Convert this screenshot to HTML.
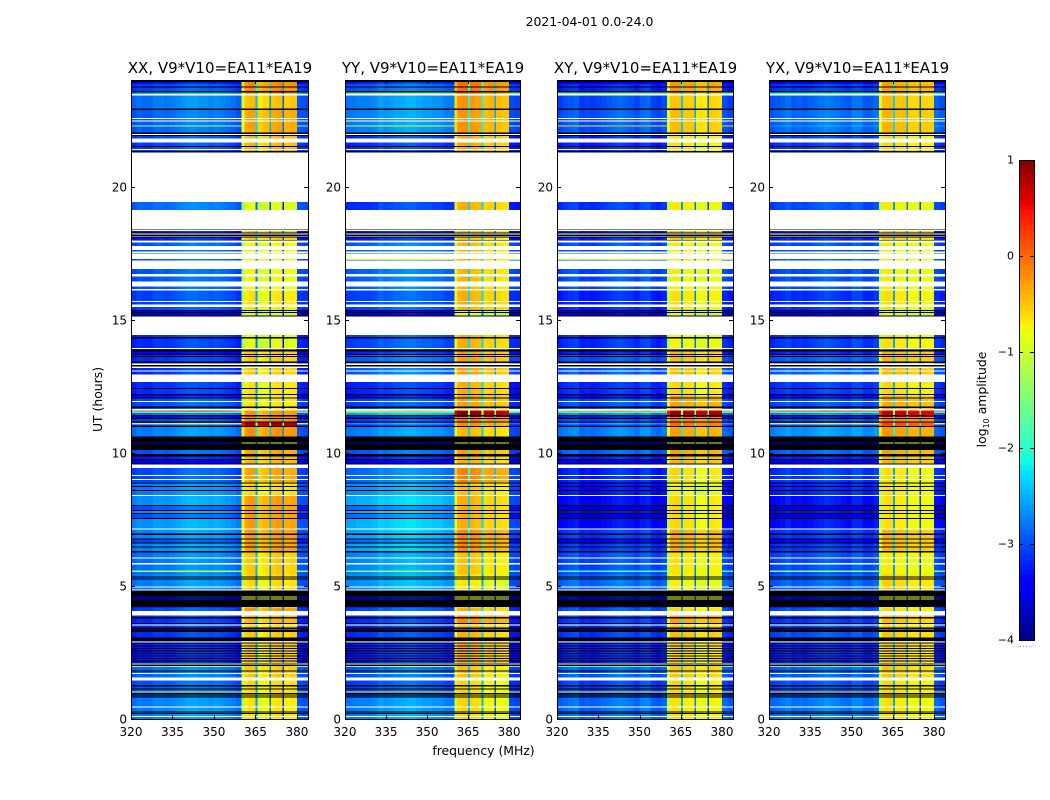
<!DOCTYPE html>
<html lang="en">
<head>
<meta charset="utf-8">
<title>2021-04-01 0.0-24.0</title>
<style>
html,body{margin:0;padding:0;background:#fff;width:1050px;height:800px;overflow:hidden}
svg{display:block}
text{font-family:"DejaVu Sans","Liberation Sans",sans-serif;fill:#000}
</style>
</head>
<body>
<svg id="figure" xmlns="http://www.w3.org/2000/svg" width="1050" height="800" viewBox="0 0 1050 800">
  <rect x="0" y="0" width="1050" height="800" fill="#fff"/>
  <text x="589.5" y="26" font-size="12.4" text-anchor="middle">2021-04-01 0.0-24.0</text>
  <text x="0" y="0" font-size="12.4" text-anchor="middle" transform="translate(102,399.5) rotate(-90)">UT (hours)</text>
  <text x="483.5" y="755" font-size="12.4" text-anchor="middle">frequency (MHz)</text>
  <text x="0" y="0" font-size="12.4" text-anchor="middle" transform="translate(986,399.5) rotate(-90)">log<tspan font-size="8" dy="3">10</tspan><tspan dy="-3"> amplitude</tspan></text>
  <text x="1017" y="647" font-size="6" fill="#555" letter-spacing="0.9">......</text>
  <g id="panels"></g>
  <g id="colorbar"></g>
</svg>
<script>
// ---- chart data (hours UT, MHz, log10 amplitude) ----
const panelNames = ['XX', 'YY', 'XY', 'YX'];
const freqTicks = [320, 335, 350, 365, 380];
const utTicks = [0, 5, 10, 15, 20];
const colorTicks = [1, 0, -1, -2, -3, -4];
const freqEdges = [320,322,324,326,328,330,332,334,336,338,340,342,344,346,348,350,352,354,356,358,360,361,362.5,365,365.8,367.5,370,370.6,372.5,374.7,375.3,377.5,380,382,384];

// lower hour bound of each coarse time block, top of the plot downward
const blockFloorHours = [23.51,22.91,22.03,21.27,18.41,17.95,16.12,15.37,15.12,13.90,12.93,12.14,11.65,11.35,11.13,10.99,10.60,10.11,9.96,9.56,8.91,8.42,7.11,6.28,5.42,4.82,4.18,4.05,3.60,2.95,2.06,1.45,0.83,0];

// level below the 360 MHz band for each block
const lowXX = [-3.0,-2.75,-2.85,-3.0,-2.8,-3.2,-2.9,-3.0,-3.5,-3.1,-3.1,-3.1,-2.95,-2.8,-3.0,-3.1,-2.7,-3.5,-2.9,-3.2,-2.95,-2.7,-2.6,-2.65,-2.75,-2.7,-3.3,-3.0,-3.1,-3.1,-3.2,-2.8,-2.9,-2.7];
const lowYY = [-2.9,-2.7,-2.7,-3.1,-3.1,-3.2,-2.85,-3.0,-3.5,-3.0,-2.85,-3.15,-3.0,-2.5,-3.0,-3.1,-2.7,-3.5,-2.9,-3.2,-2.8,-2.6,-2.45,-2.5,-2.65,-2.6,-3.3,-3.0,-3.1,-3.1,-3.2,-2.9,-3.0,-2.7];
const lowXY = [-3.2,-3.0,-2.95,-3.2,-3.1,-3.2,-3.0,-3.2,-3.5,-3.15,-2.95,-3.15,-3.0,-2.7,-3.0,-3.1,-2.75,-3.5,-2.9,-3.2,-3.2,-3.3,-3.35,-3.1,-3.0,-2.85,-3.3,-3.0,-3.1,-3.1,-3.2,-2.9,-3.05,-2.85];
const lowYX = [-3.1,-2.9,-2.85,-3.1,-3.0,-3.2,-3.0,-3.15,-3.5,-3.1,-2.9,-3.1,-3.0,-2.7,-3.0,-3.1,-2.65,-3.5,-2.9,-3.2,-3.1,-3.2,-3.3,-3.1,-3.0,-2.9,-3.3,-3.0,-3.1,-3.0,-3.2,-2.9,-3.0,-2.8];

// level inside the 360-380 MHz band for each block
const bandXX = [-.25,-.55,-.4,-.5,-.95,-.6,-.85,-.75,-1,-.95,-.6,-.75,-.75,-.3,-.2,.8,-.3,-.9,-.4,-.5,-.4,-.7,-.35,-.35,-.6,-.7,-.9,-.35,-.5,-.6,-.6,-.6,-.7,-.75];
const bandYY = [-.15,-.35,-.35,-.45,-.5,-.6,-.55,-.5,-1,-.5,-.4,-.5,-.4,.85,-.15,-.3,-.55,-.9,-.4,-.5,-.25,-.6,-.5,-.3,-.6,-.8,-.9,-.5,-.3,-.5,-.45,-.6,-.7,-.7];
const bandXY = [-.35,-.6,-.55,-.75,-.8,-.6,-.8,-.75,-1,-.85,-.55,-.7,-.4,.8,-.2,-.1,-.4,-.9,-.4,-.5,-.7,-.85,-.7,-.45,-.75,-.85,-.9,-.7,-.4,-.55,-.65,-.6,-.7,-.75];
const bandYX = [-.4,-.55,-.5,-.7,-.8,-.6,-.8,-.75,-1,-.75,-.5,-.7,-.45,.6,-.2,.1,-.35,-.9,-.4,-.5,-.75,-.75,-.75,-.5,-.8,-.65,-.9,-.7,-.55,-.6,-.65,-.6,-.7,-.75];

// spectral shape: offset added per frequency bin (one per freqEdges interval)
const shapeXX = [-.15,-.05,-.1,-.1,0,0,-.05,0,.05,.1,.15,.15,.1,.1,.05,.1,.05,0,-.05,-.15, -.4,.05,.12,-1.9,-.15,-.05,-2.1,.05,.1,-2.4,0,.05, -.1,-.15];
const shapeYY = [-.1,-.1,-.05,-.05,-.05,0,.12,.05,.1,.15,.15,.2,.2,.15,.1,.1,.05,.05,-.05,-.05, -.3,.1,.15,-1.8,.1,.05,-1.8,-.1,-.05,-2.2,-.1,-.15, -.15,-.2];
const shapeXY = [-.1,0,.05,.1,-.1,-.05,-.1,-.05,0,.05,.1,.15,.1,.05,-.05,.1,.15,-.05,-.1,0, -.35,.1,.12,-1.8,.05,.05,-2.0,-.1,-.1,-2.3,.02,-.02, 0,-.1];
const shapeYX = [-.1,-.05,0,.08,-.05,0,-.05,0,.05,.1,.15,.1,.05,0,-.05,.1,.1,-.05,-.05,.05, -.3,.1,.12,-1.8,.05,.05,-2.0,-.05,-.05,-2.3,-.02,-.05, 0,-.1];

// the 380-384 MHz edge stays below this level even when the rest of the spectrum is bright
const tailCeiling = -2.85;

// flagged (no data) integrations, plotted white: [upper hour, lower hour]
const whiteRows = [[23.48,23.41],[22.57,22.53],[22.48,22.45],[21.98,21.94],[21.81,21.66],[21.41,21.37],[21.27,19.42],[19.12,18.39],[18.37,18.33],[18.23,18.19],[18.15,18.12],[17.97,17.89],[17.77,17.62],[17.55,17.51],[17.49,17.28],[17.22,16.90],[16.72,16.62],[16.43,16.24],[16.15,16.09],[15.70,15.66],[15.56,15.48],[15.11,14.43],[13.94,13.90],[13.35,13.30],[13.24,13.19],[13.09,13.05],[12.94,12.66],[11.95,11.91],[11.64,11.59],[9.56,9.43],[9.16,9.12],[9.02,8.98],[8.41,8.37],[7.15,7.11],[6.07,6.03],[5.85,5.81],[4.98,4.94],[4.86,4.82],[4.05,3.88],[3.55,3.51],[2.91,2.87],[2.08,2.04],[1.73,1.69],[1.55,1.45],[0.47,0.43],[0.11,0.07]];

// fully attenuated integrations, plotted black
const blackRows = [[24.0,23.93],[23.75,23.71],[23.58,23.53],[22.93,22.88],[22.02,21.98],[21.94,21.90],[21.52,21.48],[21.33,21.27],[18.39,18.37],[18.27,18.23],[18.19,18.15],[18.12,18.08],[18.0,17.97],[15.37,15.33],[15.28,15.24],[15.15,15.11],[14.34,14.30],[13.88,13.80],[13.71,13.67],[13.64,13.60],[13.42,13.38],[13.30,13.24],[12.43,12.39],[12.20,12.16],[12.08,12.04],[11.74,11.69],[11.41,11.37],[11.31,11.27],[11.17,11.13],[11.01,10.97],[10.61,10.39],[10.35,10.11],[9.96,9.86],[9.76,9.72],[9.60,9.56],[8.89,8.85],[8.76,8.72],[8.60,8.56],[8.04,8.00],[7.85,7.81],[7.74,7.70],[7.55,7.51],[6.96,6.92],[6.78,6.74],[6.63,6.59],[6.48,6.44],[6.31,6.25],[5.36,5.31],[5.28,5.24],[4.82,4.61],[4.57,4.52],[4.48,4.21],[3.84,3.77],[3.61,3.57],[3.43,3.38],[3.36,3.27],[3.07,2.93],[2.87,2.83],[2.76,2.72],[2.67,2.63],[2.58,2.54],[2.48,2.44],[2.39,2.35],[2.29,2.25],[2.20,2.16],[2.11,2.08],[2.04,2.00],[1.83,1.79],[1.27,1.23],[1.14,1.10],[0.98,0.94],[0.92,0.88],[0.84,0.80],[0.29,0.25],[0.23,0.19]];

// weak integrations: darker below the band
const dimRows = [[23.93,23.85],[13.80,13.71],[12.16,12.08],[11.37,11.31],[9.72,9.60],[8.00,7.85],[7.70,7.55],[6.74,6.63],[3.38,3.36]];
const dimOffset = -0.3;

// RFI lines: [upper hour, lower hour], with the level below the band per panel
const hotRows = [[23.53,23.48],[22.30,22.26],[17.28,17.24],[11.59,11.54],[11.54,11.49],[11.12,11.07],[5.57,5.53],[2.00,1.96],[1.03,0.99]];
const hotXX = [-2.4,-1.2,-2.9,0.2,-1.9,-1.0,-1.2,-1.2,-0.8];
const hotYY = [-1.5,-0.9,-1.0,-0.6,-1.9,-2.6,-1.4,-1.2,-0.7];
const hotXY = [-1.6,-0.6,-1.2,-0.3,-1.9,-2.6,-1.8,-1.6,-0.8];
const hotYX = [-2.0,-2.5,-2.9,0.1,-1.9,-1.0,-1.4,-1.5,-0.5];

const lowSeries = [lowXX, lowYY, lowXY, lowYX];
const bandSeries = [bandXX, bandYY, bandXY, bandYX];
const shapeSeries = [shapeXX, shapeYY, shapeXY, shapeYX];
const hotSeries = [hotXX, hotYY, hotXY, hotYX];

// ---- layout ----
const SVGNS = 'http://www.w3.org/2000/svg';
const panelLeft = [131, 345, 557, 769];
const panelRight = [308, 520, 733, 945];
const plotTop = 80, plotBottom = 719;
const freqMin = 320, freqMax = 384, utMin = 0, utMax = 24, cMin = -4, cMax = 1;
const cbLeft = 1019, cbRight = 1034, cbTop = 160, cbBottom = 640;

function xScale(p, f) { return panelLeft[p] + (f - freqMin) / (freqMax - freqMin) * (panelRight[p] - panelLeft[p]); }
function yScale(h) { return plotBottom - (h - utMin) / (utMax - utMin) * (plotBottom - plotTop); }
function cScale(v) { return cbBottom - (v - cMin) / (cMax - cMin) * (cbBottom - cbTop); }

function interp(stops, t) {
  for (let i = 1; i < stops.length; i++) {
    if (t <= stops[i][0]) {
      const a = stops[i - 1], b = stops[i];
      return a[1] + (b[1] - a[1]) * (t - a[0]) / (b[0] - a[0]);
    }
  }
  return stops[stops.length - 1][1];
}
const jetR = [[0,0],[.35,0],[.66,1],[.89,1],[1,.5]];
const jetG = [[0,0],[.125,0],[.375,1],[.64,1],[.91,0],[1,0]];
const jetB = [[0,.5],[.11,1],[.34,1],[.65,0],[1,0]];
function jet(v) {
  const t = Math.max(0, Math.min(1, (v - cMin) / (cMax - cMin)));
  return 'rgb(' + Math.round(255 * interp(jetR, t)) + ',' + Math.round(255 * interp(jetG, t)) + ',' + Math.round(255 * interp(jetB, t)) + ')';
}
function make(tag, attrs, parent) {
  const el = document.createElementNS(SVGNS, tag);
  for (const k in attrs) el.setAttribute(k, attrs[k]);
  parent.appendChild(el);
  return el;
}
function inRows(list, h) {
  for (let i = 0; i < list.length; i++) if (h <= list[i][0] && h > list[i][1]) return i;
  return -1;
}

const breaks = new Set([utMin, utMax]);
[whiteRows, blackRows, dimRows, hotRows].forEach(function (list) {
  list.forEach(function (r) { breaks.add(r[0]); breaks.add(r[1]); });
});
blockFloorHours.forEach(function (h) { breaks.add(h); });
const rowEdges = Array.from(breaks).sort(function (a, b) { return b - a; });

const panelsRoot = document.getElementById('panels');

panelNames.forEach(function (name, p) {
  const g = make('g', {}, panelsRoot);
  
  

  const cells = make('g', { 'shape-rendering': 'crispEdges' }, g);
  
  

  const x0 = xScale(p, freqMin), x1 = xScale(p, freqMax);
  for (let r = 0; r + 1 < rowEdges.length; r++) {
    const hi = rowEdges[r], lo = rowEdges[r + 1], mid = (hi + lo) / 2;
    const y0 = yScale(hi), y1 = yScale(lo);
    if (inRows(blackRows, mid) >= 0) {
      const bar = make('rect', { x: x0, y: y0, width: x1 - x0, height: y1 - y0, fill: '#000' }, cells);
      
      
      continue;
    }
    if (inRows(whiteRows, mid) >= 0) continue;
    let block = blockFloorHours.findIndex(function (f) { return mid > f; });
    if (block < 0) block = blockFloorHours.length - 1;
    const hot = inRows(hotRows, mid);
    const dim = inRows(dimRows, mid) >= 0 ? dimOffset : 0;
    for (let b = 0; b + 1 < freqEdges.length; b++) {
      const fMid = (freqEdges[b] + freqEdges[b + 1]) / 2;
      const inBand = fMid > 360 && fMid < 380;
      const inTail = fMid >= 380;
      let v;
      if (inBand) v = bandSeries[p][block] + shapeSeries[p][b];
      else if (hot >= 0) v = hotSeries[p][hot] + shapeSeries[p][b];
      else if (inTail) v = Math.min(lowSeries[p][block], tailCeiling) + shapeSeries[p][b] + dim;
      else v = lowSeries[p][block] + shapeSeries[p][b] + dim;
      const cell = make('rect', {
        x: xScale(p, freqEdges[b]), y: y0,
        width: xScale(p, freqEdges[b + 1]) - xScale(p, freqEdges[b]),
        height: y1 - y0, fill: jet(v)
      }, cells);
      
      
    }
  }

  const frame = make('rect', { x: x0 + .5, y: plotTop + .5, width: x1 - x0, height: plotBottom - plotTop, fill: 'none', stroke: '#000', 'stroke-width': 1, 'shape-rendering': 'crispEdges' }, g);
  
  

  const title = make('text', { x: (x0 + x1) / 2 + .5, y: 73, 'font-size': 15, 'text-anchor': 'middle' }, g);
  title.textContent = name + ', V9*V10=EA11*EA19';
  
  

  freqTicks.forEach(function (f) {
    const x = Math.round(xScale(p, f)) + .5;
    const tb = make('line', { x1: x, x2: x, y1: plotBottom, y2: plotBottom - 4, stroke: '#000', 'shape-rendering': 'crispEdges' }, g);
    
    
    const tt = make('line', { x1: x, x2: x, y1: plotTop, y2: plotTop + 4, stroke: '#000', 'shape-rendering': 'crispEdges' }, g);
    
    
    const lab = make('text', { x: xScale(p, f), y: 736, 'font-size': 12, 'text-anchor': 'middle' }, g);
    lab.textContent = String(f);
    
    
  });

  utTicks.forEach(function (h) {
    const y = Math.round(yScale(h)) + .5;
    const tl = make('line', { x1: x0, x2: x0 + 4, y1: y, y2: y, stroke: '#000', 'shape-rendering': 'crispEdges' }, g);
    
    
    const tr = make('line', { x1: x1, x2: x1 - 4, y1: y, y2: y, stroke: '#000', 'shape-rendering': 'crispEdges' }, g);
    
    
    const lab = make('text', { x: x0 - 4, y: y + 4, 'font-size': 12, 'text-anchor': 'end' }, g);
    lab.textContent = String(h);
    
    
  });
});

// ---- colorbar ----
const cbRoot = document.getElementById('colorbar');
const cbSteps = 96;
for (let i = 0; i < cbSteps; i++) {
  const vLo = cMin + (cMax - cMin) * i / cbSteps, vHi = cMin + (cMax - cMin) * (i + 1) / cbSteps;
  const sw = make('rect', { x: cbLeft, y: cScale(vHi), width: cbRight - cbLeft + 1, height: cScale(vLo) - cScale(vHi), fill: jet((vLo + vHi) / 2), 'shape-rendering': 'crispEdges' }, cbRoot);
  
  
}
const cbFrame = make('rect', { x: cbLeft + .5, y: cbTop + .5, width: cbRight - cbLeft, height: cbBottom - cbTop, fill: 'none', stroke: '#000', 'shape-rendering': 'crispEdges' }, cbRoot);


colorTicks.forEach(function (v) {
  const y = Math.round(cScale(v)) + .5;
  const l = make('line', { x1: cbLeft, x2: cbLeft + 4, y1: y, y2: y, stroke: '#000', 'shape-rendering': 'crispEdges' }, cbRoot);
  
  
  const r = make('line', { x1: cbRight, x2: cbRight - 4, y1: y, y2: y, stroke: '#000', 'shape-rendering': 'crispEdges' }, cbRoot);
  
  
  const lab = make('text', { x: cbLeft - 5, y: y + 3, 'font-size': 11, 'text-anchor': 'end' }, cbRoot);
  lab.textContent = v < 0 ? '\u2212' + Math.abs(v) : String(v);
  
  
});
</script>
</body>
</html>
